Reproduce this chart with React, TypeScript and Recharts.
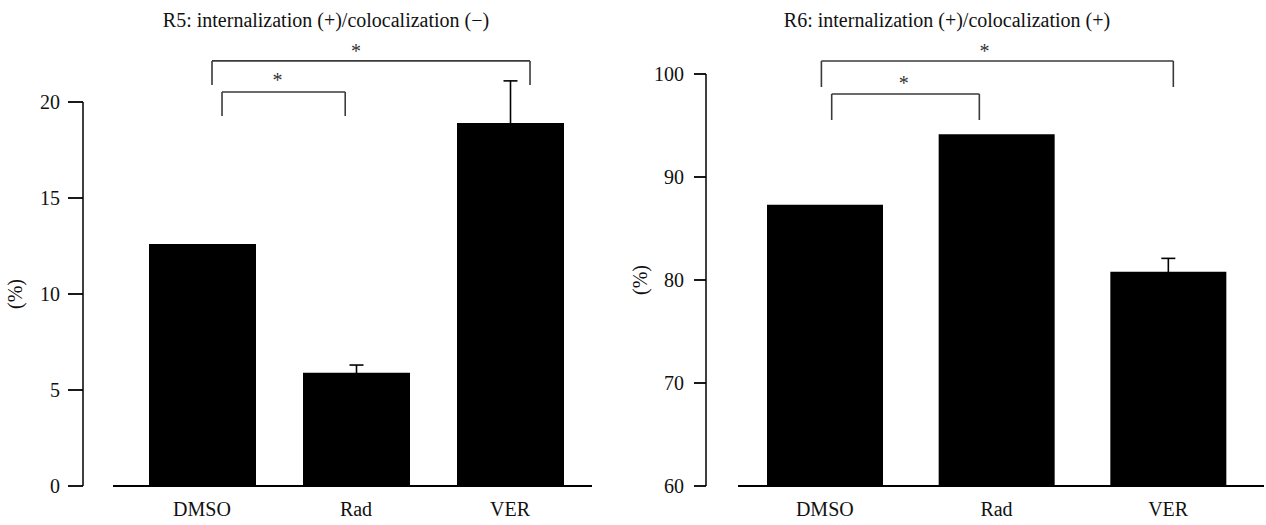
import React from "react";
import { Bar, BarChart, ErrorBar, ReferenceDot, ReferenceLine, XAxis, YAxis } from "recharts";

const categories = ["DMSO", "Rad", "VER"];

const r5Values = [12.6, 5.9, 18.9];
const r5Errors = [0, 0.4, 2.2];
const r5Ticks = [0, 5, 10, 15, 20];

const r6Values = [87.3, 94.15, 80.8];
const r6Errors = [0, 0, 1.3];
const r6Ticks = [60, 70, 80, 90, 100];

// significance brackets, in data units (x = category index)
const r5Brackets = [
  { from: 0.13, to: 0.93, top: 20.52, end: 19.27 },
  { from: 0.065, to: 2.13, top: 22.14, end: 20.89 },
];
const r5Stars = [
  { x: 0.49, y: 21.15 },
  { x: 1.0, y: 22.65 },
];

const r6Brackets = [
  { from: 0.04, to: 0.9, top: 98.06, end: 95.53 },
  { from: -0.02, to: 2.03, top: 101.26, end: 98.74 },
];
const r6Stars = [
  { x: 0.46, y: 99.1 },
  { x: 0.93, y: 102.2 },
];

const font = "'Liberation Serif', 'Times New Roman', serif";
const fs = 20;

type Bracket = { from: number; to: number; top: number; end: number };
type Star = { x: number; y: number };

type PanelProps = {
  title: string;
  values: number[];
  errors: number[];
  ticks: number[];
  brackets: Bracket[];
  stars: Star[];
  left: number;
  width: number;
  top: number;
  right: number;
  axisWidth: number;
  padLeft: number;
  padRight: number;
  lineGap: number;
  barSize: number;
  tickSize: number;
  tickMargin: number;
  labelOffset: number;
  titleX: number;
};

function Panel(p: PanelProps) {
  const data = categories.map((c, i) => ({ idx: i, name: c, value: p.values[i], err: p.errors[i] }));
  const lines = p.brackets.flatMap((b, i) => [
    <ReferenceLine key={`l${i}`} segment={[{ x: b.from, y: b.end }, { x: b.from, y: b.top }]} stroke="#3a3a3a" strokeWidth={1.6} ifOverflow="visible" />,
    <ReferenceLine key={`h${i}`} segment={[{ x: b.from, y: b.top }, { x: b.to, y: b.top }]} stroke="#3a3a3a" strokeWidth={1.6} ifOverflow="visible" />,
    <ReferenceLine key={`r${i}`} segment={[{ x: b.to, y: b.top }, { x: b.to, y: b.end }]} stroke="#3a3a3a" strokeWidth={1.6} ifOverflow="visible" />,
  ]);
  return (
    <div style={{ position: "absolute", left: p.left, top: 0, width: p.width, height: 525 }}>
      <div
        style={{
          position: "absolute",
          left: p.titleX - 250,
          width: 500,
          top: 9,
          textAlign: "center",
          fontFamily: font,
          fontSize: fs,
          lineHeight: "22px",
          color: "#111",
          whiteSpace: "nowrap",
        }}
      >
        {p.title}
      </div>
      <BarChart width={p.width} height={525} data={data} margin={{ top: p.top, right: p.right, bottom: 9, left: 0 }}>
        <XAxis
          dataKey="idx"
          type="number"
          domain={[-0.5, 2.5]}
          ticks={[0, 1, 2]}
          tickFormatter={(v: number) => categories[v]}
          padding={{ left: p.padLeft, right: p.padRight }}
          height={30}
          tickLine={false}
          tickSize={6}
          tickMargin={10}
          axisLine={{ stroke: "#000", strokeWidth: 2, strokeDasharray: `0 ${p.lineGap} 3000` }}
          tick={{ fill: "#111", fontSize: fs, fontFamily: font }}
        />
        <YAxis
          domain={[p.ticks[0], p.ticks[p.ticks.length - 1]]}
          allowDataOverflow
          ticks={p.ticks}
          width={p.axisWidth}
          tickSize={p.tickSize}
          tickMargin={p.tickMargin}
          axisLine={{ stroke: "#000", strokeWidth: 1.5 }}
          tickLine={{ stroke: "#000", strokeWidth: 1.8 }}
          tick={{ fill: "#111", fontSize: fs, fontFamily: font }}
          label={{
            value: "(%)",
            angle: -90,
            position: "insideLeft",
            offset: p.labelOffset,
            style: { textAnchor: "middle", fill: "#111", fontSize: fs, fontFamily: font },
          }}
        />
        <Bar dataKey="value" fill="#000" barSize={p.barSize} isAnimationActive={false}>
          <ErrorBar dataKey="err" width={7} stroke="#000" strokeWidth={1.6} direction="y" />
        </Bar>
        {lines}
        {p.stars.map((s, i) => (
          <ReferenceDot
            key={`s${i}`}
            x={s.x}
            y={s.y}
            r={0}
            fill="none"
            stroke="none"
            ifOverflow="visible"
            label={{ value: "*", position: "center", fill: "#333", fontSize: fs, fontFamily: font }}
          />
        ))}
      </BarChart>
    </div>
  );
}

export default function App() {
  return (
    <div style={{ position: "absolute", left: 0, top: 0, width: 1266, height: 525, background: "#fff" }}>
      <Panel
        title="R5: internalization (+)/colocalization (−)"
        values={r5Values}
        errors={r5Errors}
        ticks={r5Ticks}
        brackets={r5Brackets}
        stars={r5Stars}
        left={0}
        width={633}
        top={102}
        right={41}
        axisWidth={83}
        padLeft={42}
        padRight={5}
        lineGap={30}
        barSize={107}
        tickSize={15}
        tickMargin={8}
        labelOffset={15}
        titleX={326}
      />
      <Panel
        title="R6: internalization (+)/colocalization (+)"
        values={r6Values}
        errors={r6Errors}
        ticks={r6Ticks}
        brackets={r6Brackets}
        stars={r6Stars}
        left={620}
        width={646}
        top={74}
        right={2}
        axisWidth={86}
        padLeft={33}
        padRight={10}
        lineGap={32}
        barSize={116}
        tickSize={12}
        tickMargin={10}
        labelOffset={20}
        titleX={327}
      />
    </div>
  );
}
